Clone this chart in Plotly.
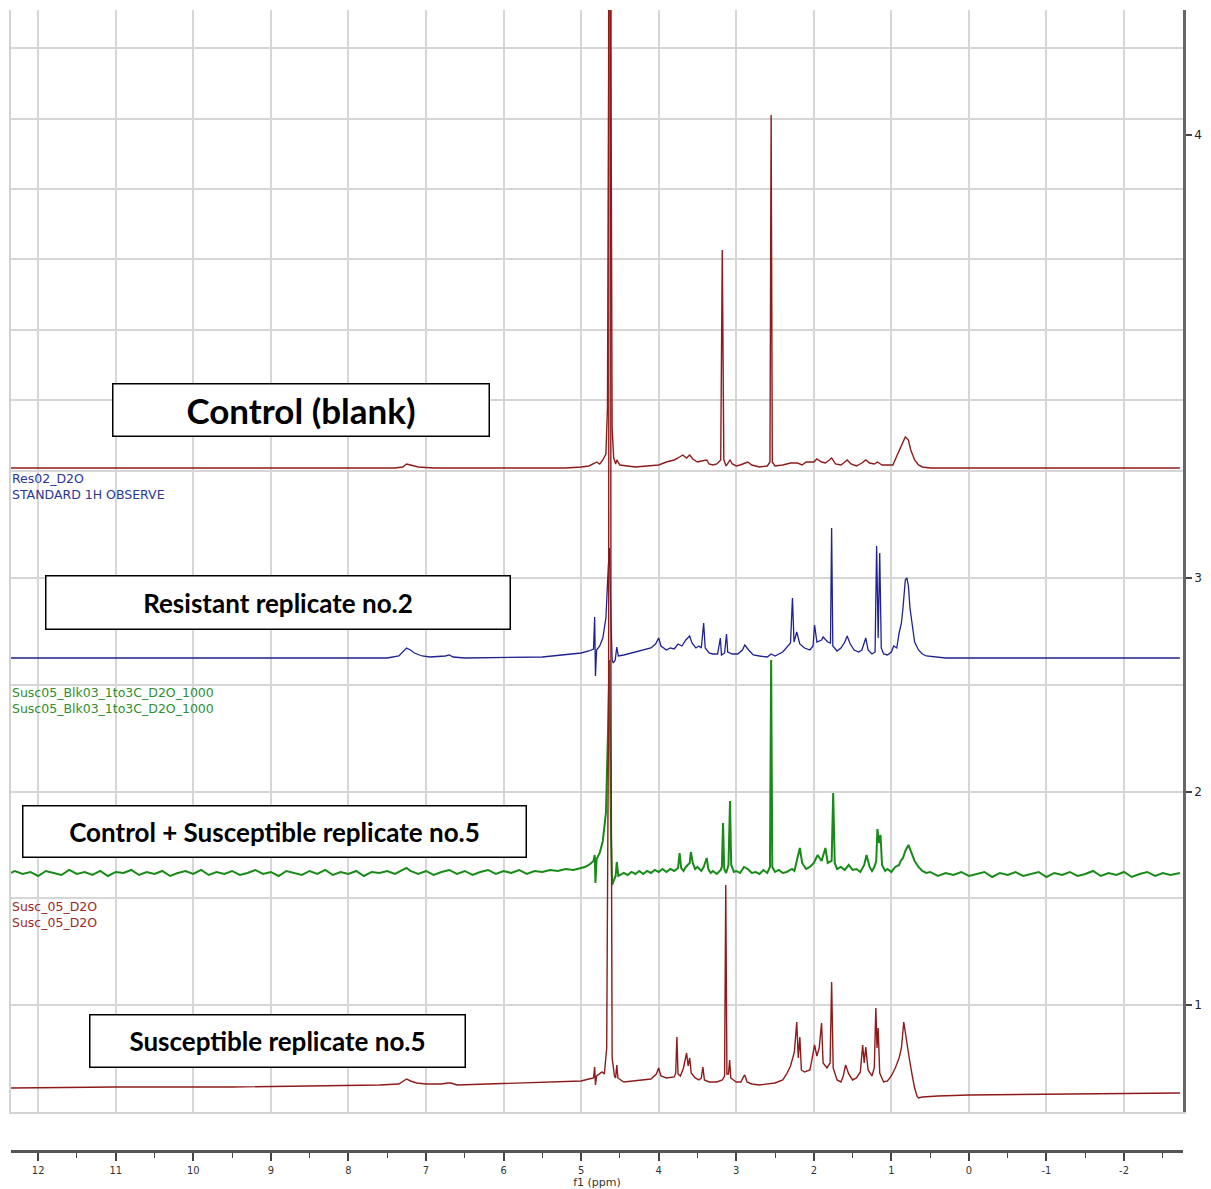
import plotly.graph_objects as go

# ---------------- data (ppm, intensity) ----------------
control_blank = [
    (12.35, 0), (7.4, 0), (7.3, 1), (7.25, 4), (7.2, 3), (7.1, 1), (6.9, 0), (5.2, 0), (5.0, 1),
    (4.9, 2), (4.82, 5), (4.8, 6), (4.76, 4), (4.72, 8), (4.68, 14), (4.66, 60), (4.645, 400),
    (4.63, 2500), (4.615, 400), (4.60, 40), (4.58, 10), (4.555, 4), (4.54, 8), (4.5, 3), (4.3, 1),
    (4.1, 2), (4.0, 3), (3.9, 6), (3.8, 8), (3.75, 10), (3.69, 13), (3.64, 10), (3.6, 13),
    (3.56, 9), (3.5, 6), (3.45, 7), (3.38, 8), (3.35, 4), (3.3, 3), (3.25, 4), (3.2, 8),
    (3.18, 218), (3.16, 8), (3.13, 2), (3.08, 8), (3.05, 4), (3.0, 2), (2.95, 3), (2.85, 6),
    (2.8, 3), (2.7, 1), (2.6, 2), (2.565, 6), (2.55, 353), (2.535, 6), (2.5, 2), (2.4, 3),
    (2.3, 5), (2.21, 5), (2.15, 3), (2.1, 6), (2.0, 6), (1.96, 9), (1.9, 6), (1.85, 5),
    (1.8, 8), (1.77, 10), (1.72, 4), (1.65, 3), (1.6, 6), (1.57, 8), (1.52, 4), (1.45, 2),
    (1.38, 5), (1.33, 8), (1.28, 5), (1.22, 4), (1.18, 6), (1.12, 3), (1.05, 3), (0.98, 3),
    (0.93, 12), (0.88, 20), (0.85, 26), (0.82, 31), (0.78, 28), (0.75, 18), (0.7, 8),
    (0.65, 3), (0.6, 1), (0.5, 0), (-2.72, 0),
]

resistant_rep2 = [
    (12.35, 0), (9.0, 0), (7.5, 0), (7.35, 2), (7.3, 6), (7.25, 10), (7.2, 8), (7.15, 5),
    (7.05, 2), (6.95, 1), (6.75, 2), (6.7, 3), (6.65, 1), (6.5, 0), (5.5, 1), (5.2, 3),
    (5.0, 5), (4.9, 7), (4.84, 9), (4.825, 41), (4.815, -18), (4.80, 8), (4.76, 12),
    (4.72, 20), (4.68, 40), (4.65, 90), (4.635, 110), (4.615, 40), (4.60, -2), (4.585, -5),
    (4.56, -2), (4.54, 11), (4.52, 2), (4.45, 3), (4.35, 5), (4.2, 8), (4.1, 10), (4.04, 14),
    (4.0, 20), (3.97, 12), (3.9, 8), (3.85, 10), (3.8, 9), (3.75, 14), (3.7, 12), (3.65, 18),
    (3.60, 22), (3.57, 15), (3.52, 10), (3.48, 12), (3.45, 10), (3.42, 35), (3.40, 10),
    (3.35, 5), (3.3, 4), (3.24, 4), (3.205, 20), (3.19, 3), (3.15, 5), (3.125, 24), (3.11, 6),
    (3.05, 4), (2.98, 4), (2.92, 8), (2.89, 13), (2.84, 8), (2.78, 3), (2.7, 2), (2.6, 1),
    (2.55, 4), (2.5, 2), (2.4, 6), (2.35, 10), (2.3, 15), (2.275, 60), (2.255, 16),
    (2.22, 26), (2.18, 14), (2.12, 10), (2.05, 8), (2.01, 12), (1.99, 33), (1.96, 16),
    (1.9, 18), (1.88, 21), (1.82, 16), (1.785, 15), (1.77, 130), (1.755, 12), (1.7, 7),
    (1.65, 10), (1.6, 16), (1.57, 22), (1.53, 14), (1.48, 8), (1.42, 6), (1.38, 8),
    (1.35, 14), (1.33, 20), (1.3, 8), (1.25, 4), (1.21, 6), (1.19, 112), (1.17, 20),
    (1.15, 105), (1.13, 10), (1.1, 4), (1.05, 3), (1.0, 6), (0.97, 12), (0.93, 10),
    (0.9, 25), (0.87, 35), (0.85, 50), (0.82, 78), (0.80, 80), (0.78, 72), (0.76, 50),
    (0.73, 30), (0.7, 16), (0.65, 8), (0.6, 4), (0.55, 2), (0.45, 1), (0.3, 0), (-2.72, 0),
]

control_plus_susc5 = [
    (12.35, 0), (12.3, 2), (12.2, -1), (12.1, 1), (12.0, -3), (11.9, 2), (11.8, 0), (11.7, -2),
    (11.6, 3), (11.5, -1), (11.4, 1), (11.3, -2), (11.2, 2), (11.1, -3), (11.0, 1), (10.9, 0),
    (10.8, 3), (10.7, -2), (10.6, 1), (10.5, -1), (10.4, 2), (10.3, -3), (10.2, 0), (10.1, 2),
    (10.0, -1), (9.9, 3), (9.8, -2), (9.7, 1), (9.6, -1), (9.5, 2), (9.4, -2), (9.3, 0),
    (9.2, 3), (9.1, -1), (9.0, 1), (8.9, -3), (8.8, 2), (8.7, 0), (8.6, -2), (8.5, 2),
    (8.4, -1), (8.3, 3), (8.2, -2), (8.1, 1), (8.0, -1), (7.9, 2), (7.8, -3), (7.7, 1),
    (7.6, 0), (7.5, 2), (7.4, -1), (7.3, 3), (7.25, 5), (7.2, 2), (7.1, -1), (7.0, 2),
    (6.9, -2), (6.8, 1), (6.7, 3), (6.6, -1), (6.5, 2), (6.4, -2), (6.3, 1), (6.2, 3),
    (6.1, -1), (6.0, 2), (5.9, 0), (5.8, 3), (5.7, -1), (5.6, 2), (5.5, 1), (5.4, 3),
    (5.3, 2), (5.2, 4), (5.1, 3), (5.0, 5), (4.95, 6), (4.9, 8),
    (4.84, 12), (4.825, 18), (4.815, -10), (4.80, 14), (4.76, 20), (4.72, 32), (4.68, 60),
    (4.65, 150), (4.635, 213), (4.615, 40), (4.60, -12), (4.58, -8), (4.555, -3),
    (4.54, 11), (4.52, -3), (4.45, 0), (4.4, -2), (4.35, 1), (4.3, -1), (4.25, 2), (4.2, -1),
    (4.15, 2), (4.1, 0), (4.05, 3), (4.0, 1), (3.95, 4), (3.9, 1), (3.85, 4), (3.8, 2),
    (3.75, 5), (3.73, 20), (3.71, 5), (3.68, 2), (3.65, 6), (3.6, 10), (3.585, 21),
    (3.56, 10), (3.53, 4), (3.5, 6), (3.45, 2), (3.42, 6), (3.38, 15), (3.36, 4), (3.33, 0),
    (3.3, 2), (3.25, -1), (3.2, 3), (3.185, 6), (3.17, 50), (3.155, 4), (3.13, 0), (3.1, 8),
    (3.08, 72), (3.065, 8), (3.03, 1), (3.0, 2), (2.95, 0), (2.9, 6), (2.85, 4), (2.8, 0),
    (2.75, 1), (2.7, -1), (2.65, 3), (2.6, 0), (2.565, 6), (2.55, 213), (2.535, 6),
    (2.5, 1), (2.45, 3), (2.4, 0), (2.35, 1), (2.28, 4), (2.25, 2), (2.22, 12), (2.18, 25),
    (2.15, 10), (2.1, 4), (2.05, 6), (2.0, 10), (1.95, 18), (1.9, 12), (1.85, 25),
    (1.82, 10), (1.77, 12), (1.75, 80), (1.73, 10), (1.7, 4), (1.65, 6), (1.6, 3),
    (1.55, 8), (1.5, 3), (1.45, 4), (1.4, 1), (1.35, 8), (1.32, 18), (1.28, 6), (1.25, 2),
    (1.22, 6), (1.195, 12), (1.18, 44), (1.16, 30), (1.14, 38), (1.12, 8), (1.08, 2),
    (1.05, 4), (1.0, 1), (0.95, 6), (0.9, 8), (0.88, 12), (0.85, 15), (0.82, 22),
    (0.78, 28), (0.75, 22), (0.72, 15), (0.7, 12), (0.65, 6), (0.6, 2), (0.55, 0),
    (0.5, 1), (0.4, -3), (0.3, 0), (0.2, -2), (0.1, 1), (0.0, -3), (-0.1, -1), (-0.2, 1),
    (-0.3, -4), (-0.4, 0), (-0.5, -2), (-0.6, 1), (-0.7, -3), (-0.8, -1), (-0.9, 1),
    (-1.0, -4), (-1.1, 0), (-1.2, -2), (-1.3, 1), (-1.4, -3), (-1.5, -1), (-1.6, 2),
    (-1.7, -3), (-1.8, 0), (-1.9, -2), (-2.0, 1), (-2.1, -4), (-2.2, -1), (-2.3, 1),
    (-2.4, -3), (-2.5, 0), (-2.6, -2), (-2.72, 0),
]

susceptible_rep5 = [
    (12.35, 0), (11.0, 1), (9.5, 1), (8.5, 2), (7.6, 3), (7.35, 4), (7.28, 8), (7.25, 9),
    (7.2, 7), (7.12, 5), (7.0, 4), (6.8, 4), (6.72, 5), (6.68, 5), (6.6, 3), (6.2, 4),
    (5.6, 5), (5.2, 6), (5.0, 7), (4.9, 9), (4.84, 10), (4.825, 21), (4.815, 3), (4.80, 12),
    (4.76, 14), (4.73, 16), (4.70, 14), (4.67, 40), (4.645, 400), (4.63, 2500),
    (4.615, 400), (4.60, 30), (4.57, 12), (4.555, 10), (4.54, 23), (4.525, 10), (4.45, 6),
    (4.3, 7), (4.1, 9), (4.03, 14), (4.0, 20), (3.97, 12), (3.9, 10), (3.8, 11), (3.78, 15),
    (3.765, 51), (3.75, 14), (3.72, 12), (3.68, 20), (3.64, 35), (3.62, 22), (3.60, 30),
    (3.58, 15), (3.53, 10), (3.48, 8), (3.45, 10), (3.43, 21), (3.41, 8), (3.35, 6),
    (3.25, 6), (3.18, 8), (3.15, 12), (3.135, 203), (3.12, 14), (3.10, 14), (3.085, 28),
    (3.07, 10), (3.0, 6), (2.94, 6), (2.9, 12), (2.89, 13), (2.86, 6), (2.8, 4), (2.7, 3),
    (2.6, 4), (2.5, 5), (2.4, 8), (2.35, 14), (2.3, 22), (2.27, 30), (2.25, 36), (2.22, 66),
    (2.20, 30), (2.18, 51), (2.16, 18), (2.12, 16), (2.05, 18), (2.02, 30), (1.99, 43),
    (1.96, 32), (1.93, 40), (1.90, 65), (1.88, 25), (1.83, 20), (1.79, 25), (1.77, 106),
    (1.75, 20), (1.7, 8), (1.65, 6), (1.62, 12), (1.59, 23), (1.55, 14), (1.5, 8),
    (1.45, 10), (1.4, 16), (1.37, 43), (1.35, 25), (1.33, 41), (1.3, 18), (1.25, 12),
    (1.22, 20), (1.20, 80), (1.185, 40), (1.17, 60), (1.15, 15), (1.1, 6), (1.05, 7),
    (1.0, 12), (0.95, 20), (0.9, 30), (0.87, 40), (0.84, 66), (0.82, 55), (0.8, 43),
    (0.77, 30), (0.73, 12), (0.7, 0), (0.67, -8), (0.65, -10), (0.6, -9), (0.4, -8),
    (0.0, -7), (-1.0, -6), (-2.72, -5),
]

# stacking offsets of each spectrum (display units)
stack_offsets = {"control": 644, "resistant": 454, "green": 239, "susc": 24}

x_tick_vals = [12, 11, 10, 9, 8, 7, 6, 5, 4, 3, 2, 1, 0, -1, -2]
x_tick_text = ["12", "11", "10", "9", "8", "7", "6", "5", "4", "3", "2", "1", "0", "-1", "-2"]
y_tick_vals = [107, 320, 534, 977]
y_tick_text = ["1", "2", "3", "4"]
y_grid_vals = [0, 107, 214, 320, 427, 534, 641, 711.5, 782, 852.5, 923, 993.5, 1064]

RED = "#8e1b1b"
BLUE = "#1f2290"
GREEN = "#178a17"

X_RANGE = [12.35, -2.76]
Y_RANGE = [0, 1102]
Y_DOMAIN = [0.0342, 1]


def split(pairs):
    return [p for p, _ in pairs], [v for _, v in pairs]


fig = go.Figure()

series = [
    (control_plus_susc5, "green", GREEN, 2.0),
    (resistant_rep2, "resistant", BLUE, 1.3),
    (susceptible_rep5, "susc", RED, 1.4),
    (control_blank, "control", RED, 1.4),
]
for pairs, key, color, lw in series:
    xs, ys = split(pairs)
    off = stack_offsets[key]
    fig.add_trace(go.Scatter(
        x=xs, y=[v + off for v in ys], mode="lines",
        line=dict(color=color, width=lw), showlegend=False, hoverinfo="skip",
    ))

# empty trace to materialise the grid subplot
fig.add_trace(go.Scatter(x=[], y=[], xaxis="x2", yaxis="y2", showlegend=False))

tick_font = dict(family="DejaVu Sans Condensed, Liberation Sans Narrow, DejaVu Sans", size=11, color="#333")

fig.update_layout(
    width=1211, height=1189,
    margin=dict(l=11, r=28, t=10, b=38, autoexpand=False),
    paper_bgcolor="white", plot_bgcolor="rgba(0,0,0,0)",
    xaxis=dict(
        range=X_RANGE, anchor="free", position=0, showgrid=False, zeroline=False,
        automargin=False,
        showline=True, linecolor="#555", linewidth=3,
        ticks="outside", ticklen=8, tickwidth=1.5, tickcolor="#444",
        tickmode="array", tickvals=x_tick_vals, ticktext=x_tick_text, tickfont=tick_font,
        minor=dict(dtick=0.5, tick0=0, ticks="outside", ticklen=5, tickwidth=1.2,
                   tickcolor="#444", showgrid=False),
        title=dict(text="f1 (ppm)", font=dict(family="DejaVu Sans", size=11, color="#333"),
                   standoff=2),
    ),
    xaxis2=dict(
        range=X_RANGE, overlaying="x", anchor="y2", showgrid=True, gridcolor="#d6d6d6",
        gridwidth=1.6, tickmode="linear", dtick=1, tick0=0, showticklabels=False,
        ticks="", zeroline=False, showline=True, linecolor="#d2d2d2", linewidth=2,
        side="bottom", automargin=False,
    ),
    yaxis=dict(
        domain=Y_DOMAIN, range=Y_RANGE, side="right", anchor="x", showgrid=False,
        zeroline=False, showline=True, linecolor="#666", linewidth=2.5, automargin=False,
        ticks="outside", ticklen=6, tickwidth=1.5, tickcolor="#444",
        tickmode="array", tickvals=y_tick_vals, ticktext=y_tick_text,
        tickfont=dict(family="DejaVu Sans", size=12, color="#223"),
    ),
    yaxis2=dict(
        domain=Y_DOMAIN, range=Y_RANGE, overlaying="y", anchor="x2", side="left",
        showgrid=True, gridcolor="#d6d6d6", gridwidth=1.6, tickmode="array",
        tickvals=y_grid_vals, showticklabels=False, ticks="", zeroline=False,
        showline=True, linecolor="#d2d2d2", linewidth=2, automargin=False,
    ),
)

box_font = dict(family="Lato, Open Sans, sans-serif", color="black", weight="bold")
boxes = [
    ("Control (blank)", 0.2476, 0.649, 375, 51, 35),
    ("Resistant replicate no.2", 0.228, 0.4803, 463, 52, 26),
    ("Control + Susceptible replicate no.5", 0.225, 0.2804, 502, 50, 26),
    ("Susceptible replicate no.5", 0.2275, 0.0960, 374, 51, 26),
]
for text, bx, by, w, h, fs in boxes:
    fig.add_annotation(
        text=text, xref="paper", yref="paper", x=bx, y=by, xanchor="center", yanchor="middle",
        showarrow=False, width=w, height=h, bgcolor="white", bordercolor="black",
        borderwidth=1.5, borderpad=0, font=dict(size=fs, **box_font),
    )

labels = [
    ("Res02_D2O<br>STANDARD 1H OBSERVE", 0.582, "#2b3699"),
    ("Susc05_Blk03_1to3C_D2O_1000<br>Susc05_Blk03_1to3C_D2O_1000", 0.3944, "#2e8f2e"),
    ("Susc_05_D2O<br>Susc_05_D2O", 0.2073, "#9a2a2a"),
]
for text, ly, col in labels:
    fig.add_annotation(
        text=text, xref="paper", yref="paper", x=0, y=ly, xanchor="left", yanchor="middle",
        align="left", showarrow=False, borderpad=0,
        font=dict(family="DejaVu Sans", size=12.5, color=col),
    )

fig.write_html("out.html")
